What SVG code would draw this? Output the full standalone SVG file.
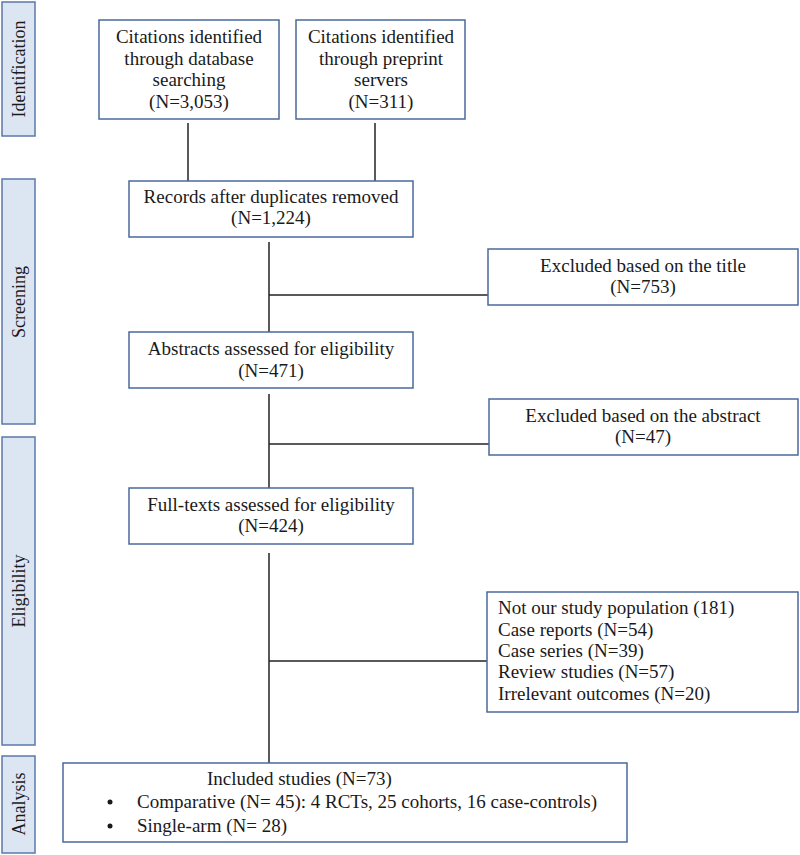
<svg xmlns="http://www.w3.org/2000/svg" width="800" height="855" viewBox="0 0 800 855">
<style>
.box{fill:#ffffff;stroke:#4a6a9c;stroke-width:1.5}
.side{fill:#dce5f2;stroke:#5b78a8;stroke-width:1.5}
.t{font-family:"Liberation Serif","Times New Roman",serif;font-size:19px;fill:#1a1a1a}
.s{font-size:18px}
.c{text-anchor:middle}
.ln{stroke:#222;stroke-width:1.5;fill:none}
</style>
<rect width="800" height="855" fill="#ffffff"/>
<g id="side-identification"><rect class="side" x="2" y="2" width="33" height="134"/><text class="t s c" transform="translate(25,69) rotate(-90)">Identification</text></g>
<g id="side-screening"><rect class="side" x="2" y="179" width="33" height="245"/><text class="t s c" transform="translate(25,302) rotate(-90)">Screening</text></g>
<g id="side-eligibility"><rect class="side" x="2" y="437" width="33" height="308"/><text class="t s c" transform="translate(25,591) rotate(-90)">Eligibility</text></g>
<g id="side-analysis"><rect class="side" x="2" y="756" width="33" height="97"/><text class="t s c" transform="translate(25,804) rotate(-90)">Analysis</text></g>

<g id="connectors">
<line class="ln" x1="188" y1="123" x2="188" y2="181"/>
<line class="ln" x1="375" y1="123" x2="375" y2="181"/>
<line class="ln" x1="269" y1="242" x2="269" y2="332"/>
<line class="ln" x1="269" y1="295" x2="488" y2="295"/>
<line class="ln" x1="269" y1="394" x2="269" y2="488"/>
<line class="ln" x1="269" y1="444" x2="489" y2="444"/>
<line class="ln" x1="269" y1="553" x2="269" y2="763"/>
<line class="ln" x1="269" y1="661" x2="487" y2="661"/>
</g>

<g id="n-database"><rect class="box" x="99" y="20" width="180" height="99"/>
<text class="t c" x="189" y="43">Citations identified</text>
<text class="t c" x="189" y="65">through database</text>
<text class="t c" x="189" y="86">searching</text>
<text class="t c" x="189" y="108">(N=3,053)</text></g>

<g id="n-preprint"><rect class="box" x="296" y="20" width="169" height="99"/>
<text class="t c" x="381" y="43">Citations identified</text>
<text class="t c" x="381" y="65">through preprint</text>
<text class="t c" x="381" y="86">servers</text>
<text class="t c" x="381" y="108">(N=311)</text></g>

<g id="n-records"><rect class="box" x="129" y="181" width="284" height="56"/>
<text class="t c" x="271" y="203">Records after duplicates removed</text>
<text class="t c" x="271" y="224">(N=1,224)</text></g>

<g id="n-excl-title"><rect class="box" x="488" y="249" width="310" height="56"/>
<text class="t c" x="643" y="272">Excluded based on the title</text>
<text class="t c" x="643" y="293">(N=753)</text></g>

<g id="n-abstracts"><rect class="box" x="129" y="332" width="284" height="56"/>
<text class="t c" x="271" y="355">Abstracts assessed for eligibility</text>
<text class="t c" x="271" y="377">(N=471)</text></g>

<g id="n-excl-abstract"><rect class="box" x="489" y="399" width="309" height="56"/>
<text class="t c" x="643" y="422">Excluded based on the abstract</text>
<text class="t c" x="643" y="443">(N=47)</text></g>

<g id="n-fulltexts"><rect class="box" x="129" y="488" width="284" height="56"/>
<text class="t c" x="271" y="511">Full-texts assessed for eligibility</text>
<text class="t c" x="271" y="532">(N=424)</text></g>

<g id="n-excl-full"><rect class="box" x="487" y="592" width="311" height="120"/>
<text class="t" x="498" y="614">Not our study population (181)</text>
<text class="t" x="498" y="636">Case reports (N=54)</text>
<text class="t" x="498" y="657">Case series (N=39)</text>
<text class="t" x="498" y="678">Review studies (N=57)</text>
<text class="t" x="498" y="700">Irrelevant outcomes (N=20)</text></g>

<g id="n-included"><rect class="box" x="63" y="763" width="564" height="79"/>
<text class="t" x="207" y="785">Included studies (N=73)</text>
<circle cx="110" cy="802" r="2.5" fill="#1a1a1a"/>
<text class="t" x="137" y="808">Comparative (N= 45): 4 RCTs, 25 cohorts, 16 case-controls)</text>
<circle cx="110" cy="826" r="2.5" fill="#1a1a1a"/>
<text class="t" x="137" y="832">Single-arm (N= 28)</text></g>
</svg>
